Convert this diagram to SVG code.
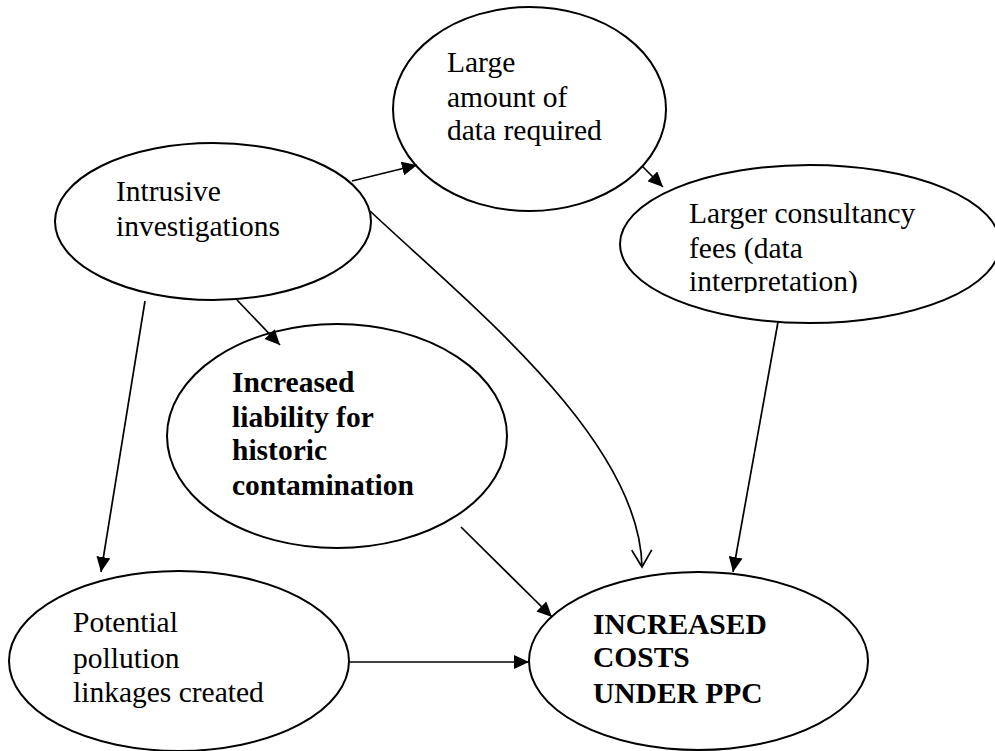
<svg xmlns="http://www.w3.org/2000/svg" width="995" height="751" viewBox="0 0 995 751">
<style>
.node ellipse{fill:#fff;stroke:#000;stroke-width:2}
.node text{font-family:'Liberation Serif',Tinos,'Times New Roman',Times,'DejaVu Serif','Noto Serif',serif;font-size:29.5px;fill:#000}
.node text.b{font-weight:bold}
.edges line,.edges path{stroke:#000;stroke-width:1.7;fill:none}
</style>
<defs>
<marker id="ah" markerUnits="userSpaceOnUse" markerWidth="16" markerHeight="14" refX="15" refY="7" orient="auto">
<path d="M0,0 L15,7 L0,14 z" fill="#000"/>
</marker>
<marker id="open" markerUnits="userSpaceOnUse" markerWidth="20" markerHeight="24" refX="18" refY="11" orient="auto">
<path d="M1,1 L18,11 L1,21" fill="none" stroke="#000" stroke-width="1.7"/>
</marker>
<clipPath id="clipC"><rect x="600" y="150" width="395" height="143"/></clipPath>
</defs>
<rect width="995" height="751" fill="#fff"/>
<g id="intrusive" class="node">
<ellipse cx="213" cy="221.5" rx="158" ry="78.5"/>
<text x="116" y="201">Intrusive</text>
<text x="116" y="236">investigations</text>
</g>
<g id="large" class="node">
<ellipse cx="529.5" cy="109" rx="136.5" ry="102"/>
<text x="447" y="72">Large</text>
<text x="447" y="107">amount of</text>
<text x="447" y="140">data required</text>
</g>
<g id="consultancy" class="node">
<ellipse cx="810" cy="244" rx="190" ry="79"/>
<g clip-path="url(#clipC)">
<text x="689" y="223">Larger consultancy</text>
<text x="689" y="258">fees (data</text>
<text x="689" y="291">interpretation)</text>
</g>
</g>
<g id="liability" class="node">
<ellipse cx="337" cy="436" rx="170" ry="112"/>
<text class="b" x="232" y="392">Increased</text>
<text class="b" x="232" y="427">liability for</text>
<text class="b" x="232" y="460">historic</text>
<text class="b" x="232" y="495">contamination</text>
</g>
<g id="potential" class="node">
<ellipse cx="179" cy="661" rx="170" ry="90"/>
<text x="73" y="632">Potential</text>
<text x="73" y="668">pollution</text>
<text x="73" y="702">linkages created</text>
</g>
<g id="costs" class="node">
<ellipse cx="698.5" cy="661" rx="169.5" ry="89"/>
<text class="b" x="593" y="634">INCREASED</text>
<text class="b" x="593" y="667">COSTS</text>
<text class="b" x="593" y="703">UNDER PPC</text>
</g>
<g id="connectors" class="edges">
<line x1="352" y1="181" x2="417" y2="165" marker-end="url(#ah)"/>
<line x1="642" y1="166" x2="663" y2="187" marker-end="url(#ah)"/>
<path d="M370,211 C470,305 640,440 642,567" marker-end="url(#open)"/>
<line x1="237" y1="300" x2="280" y2="345" marker-end="url(#ah)"/>
<line x1="145" y1="301" x2="101" y2="572" marker-end="url(#ah)"/>
<line x1="778" y1="322" x2="733" y2="572" marker-end="url(#ah)"/>
<line x1="461" y1="527" x2="552" y2="617" marker-end="url(#ah)"/>
<line x1="349" y1="662" x2="529" y2="662" marker-end="url(#ah)"/>
</g>
</svg>
